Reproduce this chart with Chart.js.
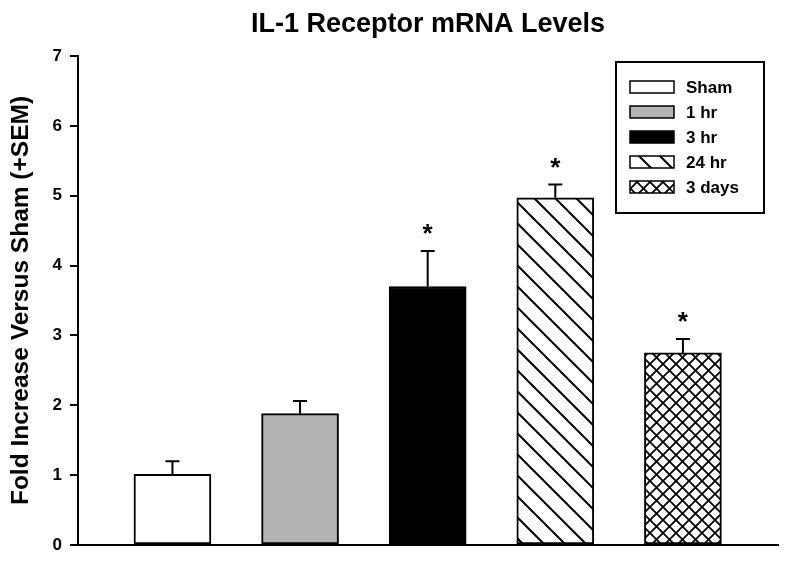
<!DOCTYPE html>
<html>
<head>
<meta charset="utf-8">
<title>IL-1 Receptor mRNA Levels</title>
<script src="https://cdn.jsdelivr.net/npm/chart.js@4.4.1/dist/chart.umd.min.js"></script>
<style>
  html, body { margin: 0; padding: 0; background: #fff; }
  canvas { display: block; }
</style>
</head>
<body>
<canvas id="il1Chart" width="800" height="587"></canvas>
<script>
const categories = ["Sham", "1 hr", "3 hr", "24 hr", "3 days"];
const foldMeans = [1.01, 1.88, 3.70, 4.97, 2.75];
const foldSem = [0.19, 0.18, 0.51, 0.19, 0.20];
const significant = [false, false, true, true, true];
const yTicks = [0, 1, 2, 3, 4, 5, 6, 7];

const FONT = "'Liberation Sans', Arial, Helvetica, sans-serif";

// hatch patterns for the 24 hr and 3 day bars
function makeDiagonal(size) {
  const c = document.createElement("canvas");
  c.width = size;
  c.height = size;
  const g = c.getContext("2d");
  g.fillStyle = "#fff";
  g.fillRect(0, 0, size, size);
  g.strokeStyle = "#000";
  g.lineWidth = 2;
  g.beginPath();
  g.moveTo(-2, -2);
  g.lineTo(size + 2, size + 2);
  g.moveTo(-2, size - 2);
  g.lineTo(2, size + 2);
  g.moveTo(size - 2, -2);
  g.lineTo(size + 2, 2);
  g.stroke();
  return g.createPattern(c, "repeat");
}

function makeCross(size) {
  const c = document.createElement("canvas");
  c.width = size;
  c.height = size;
  const g = c.getContext("2d");
  g.fillStyle = "#fff";
  g.fillRect(0, 0, size, size);
  g.strokeStyle = "#000";
  g.lineWidth = 1.8;
  g.beginPath();
  g.moveTo(-1, -1);
  g.lineTo(size + 1, size + 1);
  g.moveTo(size + 1, -1);
  g.lineTo(-1, size + 1);
  g.stroke();
  return g.createPattern(c, "repeat");
}

const barFills = ["#ffffff", "#b3b3b3", "#000000", makeDiagonal(21), makeCross(13)];

// error bars (+SEM) and significance stars
const errorBarPlugin = {
  id: "errorBars",
  afterDatasetsDraw(chart) {
    const ctx = chart.ctx;
    const xs = chart.scales.x;
    const ys = chart.scales.y;
    ctx.save();
    ctx.strokeStyle = "#000";
    ctx.lineWidth = 2;
    foldMeans.forEach((m, i) => {
      const x = xs.getPixelForValue(i);
      const yBar = ys.getPixelForValue(m);
      const yErr = ys.getPixelForValue(m + foldSem[i]);
      ctx.beginPath();
      ctx.moveTo(x, yBar);
      ctx.lineTo(x, yErr);
      ctx.moveTo(x - 7, yErr);
      ctx.lineTo(x + 7, yErr);
      ctx.stroke();
      if (significant[i]) {
        ctx.fillStyle = "#000";
        ctx.font = "bold 26px " + FONT;
        ctx.textAlign = "center";
        ctx.textBaseline = "alphabetic";
        ctx.fillText("*", x, yErr - 9);
      }
    });
    ctx.restore();
  },
};

// boxed legend in the upper right corner
const boxLegendPlugin = {
  id: "boxLegend",
  afterDraw(chart) {
    const ctx = chart.ctx;
    ctx.save();
    ctx.strokeStyle = "#000";
    ctx.lineWidth = 2;
    ctx.strokeRect(616, 62, 148, 151);
    ctx.font = "bold 17px " + FONT;
    ctx.textAlign = "left";
    ctx.textBaseline = "middle";
    categories.forEach((name, i) => {
      const cy = 87 + i * 25;
      ctx.fillStyle = barFills[i];
      ctx.fillRect(630, cy - 6, 44, 12);
      ctx.lineWidth = 1.5;
      ctx.strokeRect(630, cy - 6, 44, 12);
      ctx.fillStyle = "#000";
      ctx.fillText(name, 686, cy + 1);
    });
    ctx.restore();
  },
};

const ctx = document.getElementById("il1Chart").getContext("2d");
new Chart(ctx, {
  type: "bar",
  data: {
    datasets: [
      {
        label: "Fold Increase",
        data: foldMeans.map((v, i) => ({ x: i, y: v })),
        backgroundColor: barFills,
        borderColor: "#000",
        borderWidth: 2,
        borderSkipped: false,
        barThickness: 77,
      },
    ],
  },
  options: {
    responsive: false,
    animation: false,
    devicePixelRatio: 1,
    layout: { padding: { left: 0, right: 22, top: 0, bottom: 0 } },
    plugins: {
      legend: { display: false },
      tooltip: { enabled: false },
      title: {
        display: true,
        fullSize: false,
        text: "IL-1 Receptor mRNA Levels",
        color: "#000",
        font: { family: FONT, size: 27, weight: "bold" },
        padding: { top: 8, bottom: 15.6 },
      },
    },
    scales: {
      x: {
        type: "linear",
        offset: false,
        min: -0.74,
        max: 4.745,
        ticks: { display: false },
        grid: { display: false, offset: false },
        border: { display: true, color: "#000", width: 2 },
        afterFit: (scale) => {
          scale.height = 42;
        },
      },
      y: {
        min: 0,
        max: 7,
        afterBuildTicks: (scale) => {
          scale.ticks = yTicks.map((v) => ({ value: v }));
        },
        ticks: {
          color: "#000",
          padding: 8,
          font: { family: FONT, size: 17, weight: "bold" },
        },
        grid: {
          drawOnChartArea: false,
          drawTicks: true,
          tickLength: 8,
          color: "#000",
          lineWidth: 2,
        },
        border: { display: true, color: "#000", width: 2 },
        title: {
          display: true,
          text: "Fold Increase Versus Sham (+SEM)",
          color: "#000",
          font: { family: FONT, size: 24.5, weight: "bold" },
          padding: { top: 7, bottom: 0 },
        },
        afterFit: (scale) => {
          scale.width = 78;
        },
      },
    },
  },
  plugins: [errorBarPlugin, boxLegendPlugin],
});
</script>
</body>
</html>
